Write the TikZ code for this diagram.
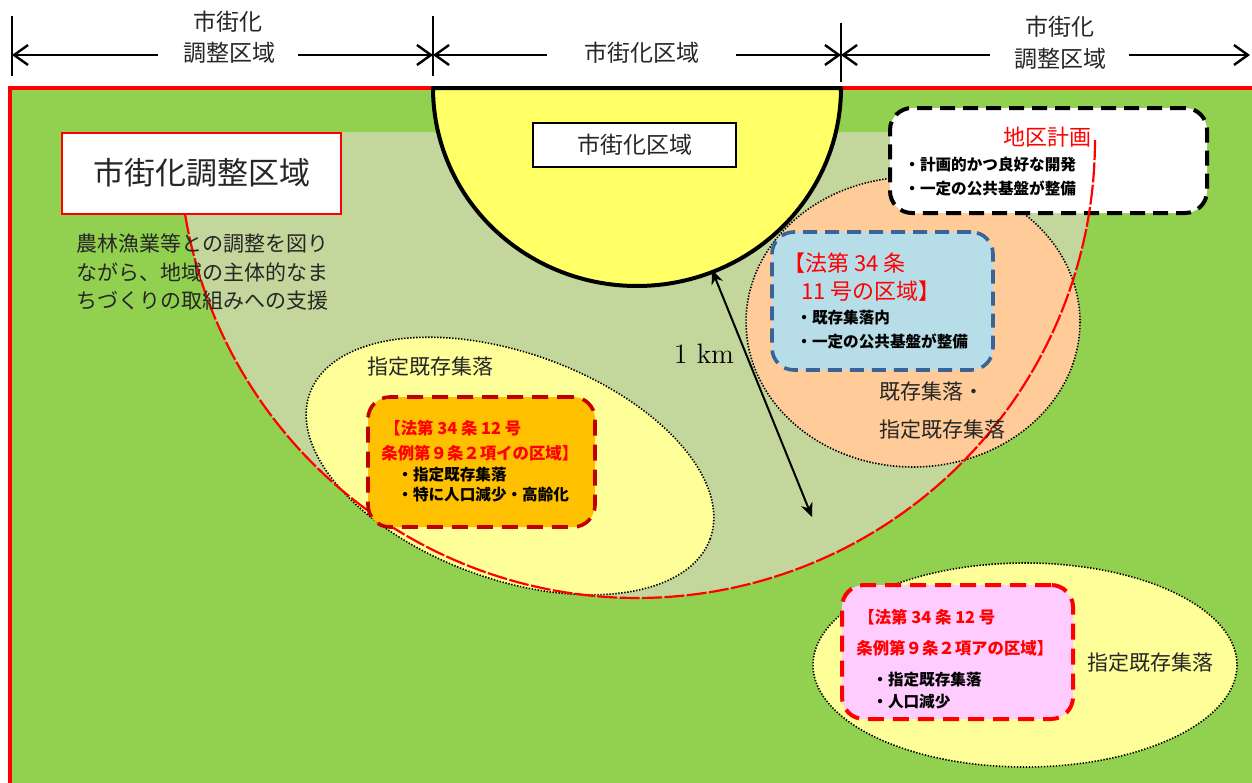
\documentclass[tikz,border=0pt]{standalone}
\usepackage{fontspec}
\newfontfamily\jp{Noto Sans CJK JP}
\usetikzlibrary{arrows.meta}
\definecolor{grn}{HTML}{92D050}
\definecolor{olv}{HTML}{C3D69B}
\definecolor{ylw}{HTML}{FFFF66}
\definecolor{lylw}{HTML}{FFFF99}
\definecolor{peach}{HTML}{FFCC99}
\definecolor{lblue}{HTML}{B7DEE8}
\definecolor{bdash}{HTML}{3A6398}
\definecolor{orng}{HTML}{FFC000}
\definecolor{dred}{HTML}{C00000}
\definecolor{pnk}{HTML}{FFCCFF}
\definecolor{txt}{HTML}{262626}
\begin{document}
\begin{tikzpicture}[x=0.5pt,y=-0.5pt,
  lab/.style={inner sep=0pt, text=txt, font=\jp\fontsize{10.5pt}{14.25pt}\selectfont},
  dimlab/.style={inner sep=0pt, text=txt, font=\jp\fontsize{11.5pt}{14pt}\selectfont},
  redbig/.style={inner sep=0pt, anchor=west, text=red, font=\jp\fontsize{11pt}{13pt}\selectfont},
  redsm/.style={inner sep=0pt, anchor=west, text=red, font=\jp\bfseries\fontsize{8.2pt}{10pt}\selectfont},
  bul/.style={inner sep=0pt, anchor=west, text=black, font=\jp\bfseries\fontsize{7.8pt}{10pt}\selectfont},
  dimarr/.style={line width=1.2pt, -{Straight Barb[length=7pt,width=10pt]}},
  tickline/.style={line width=0.6pt},
  dotb/.style={draw=black, line width=0.8pt, dash pattern=on 0.7pt off 0.8pt},
  dbox/.style={rounded corners=11pt, inner sep=0pt},
  kmarr/.style={line width=1pt, {Stealth[length=7pt,width=6pt]}-{Stealth[length=7pt,width=6pt]}}
]
\useasboundingbox (0,0) rectangle (1252,782);
\clip (0,0) rectangle (1252,782);
\fill[white] (0,0) rectangle (1252,782);
% green area
\filldraw[fill=grn, draw=red, line width=2pt] (10,88) rectangle (1275,800);
% 1 km buffer
\fill[olv] (179,132) -- (1095,132) -- (1095,140)
  -- plot[domain=0:180,samples=150] ({637+458*cos(\x)},{140+458*sin(\x)}) -- cycle;
% ellipses
\filldraw[fill=peach, dotb] plot[domain=0:360,samples=150] ({913+167*cos(\x)},{322+145*sin(\x)}) -- cycle;
\filldraw[fill=lylw, dotb] plot[domain=0:360,samples=150]
  ({510+213*cos(\x)*cos(20)-113*sin(\x)*sin(20)},{466+213*cos(\x)*sin(20)+113*sin(\x)*cos(20)}) -- cycle;
\filldraw[fill=lylw, dotb] plot[domain=0:360,samples=150] ({1025+212*cos(\x)},{665+102*sin(\x)}) -- cycle;
% urbanization area half disc
\filldraw[fill=ylw, draw=black, line width=2pt, line join=round]
  plot[domain=180:0,samples=150] ({637+204*cos(\x)},{88+198*sin(\x)}) -- cycle;
% district plan box
\node[dbox, draw=black, fill=white, line width=2pt, dash pattern=on 7.5pt off 4pt,
  minimum width=158.5pt, minimum height=52.5pt] (chiku) at (1048.5,160.5) {};
% red dashed 1km line
\draw[red, line width=1.1pt, dash pattern=on 10pt off 1.2pt]
  plot[domain=0:180,samples=150] ({637+458*cos(\x)},{140+458*sin(\x)});
% dashed boxes
\node[dbox, draw=bdash, fill=lblue, line width=1.8pt, dash pattern=on 7pt off 4pt,
  minimum width=110.5pt, minimum height=69pt] (b11) at (882.5,301) {};
\node[dbox, draw=dred, fill=orng, line width=1.8pt, dash pattern=on 8pt off 4.5pt,
  minimum width=113.5pt, minimum height=65pt] (b12i) at (481.5,462) {};
\node[dbox, draw=red, fill=pnk, line width=2pt, dash pattern=on 8pt off 4.5pt,
  minimum width=115.5pt, minimum height=67pt] (b12a) at (957.5,652) {};
% titled boxes
\node[draw=red, fill=white, line width=1pt, minimum width=139.5pt, minimum height=40.5pt,
  inner sep=0pt, text=txt, font=\jp\fontsize{15.5pt}{18pt}\selectfont] (chosei) at (201.5,173) {市街化調整区域};
\node[draw=black, fill=white, line width=0.8pt, minimum width=101.5pt, minimum height=22pt,
  inner sep=0pt, text=txt, font=\jp\fontsize{11.5pt}{14pt}\selectfont] (shigai) at (634.5,145) {市街化区域};
% texts
\node[lab, anchor=west, align=left] (para) at (76,272) {農林漁業等との調整を図り\\ながら、地域の主体的なま\\ちづくりの取組みへの支援};
\node[redbig, anchor=center] (chikuT) at (1047,137) {地区計画};
\node[bul] (chikuB1) at (904,165) {・計画的かつ良好な開発};
\node[bul] (chikuB2) at (904,188) {・一定の公共基盤が整備};
\node[redbig] (t11a) at (783,263) {【法第 34 条};
\node[redbig] (t11b) at (801,291) {11 号の区域】};
\node[bul] (t11c) at (796,318) {・既存集落内};
\node[bul] (t11d) at (796,341) {・一定の公共基盤が整備};
\node[redsm] (tia) at (384,428) {【法第 34 条 12 号};
\node[redsm] (tib) at (381,453) {条例第９条２項イの区域】};
\node[bul] (tic) at (397,475) {・指定既存集落};
\node[bul] (tid) at (397,495) {・特に人口減少・高齢化};
\node[redsm] (taa) at (858,617) {【法第 34 条 12 号};
\node[redsm] (tab) at (856,648) {条例第９条２項アの区域】};
\node[bul] (tac) at (872,680) {・指定既存集落};
\node[bul] (tad) at (872,702) {・人口減少};
\node[lab, anchor=west] (lblL) at (367,367) {指定既存集落};
\node[lab, anchor=west] (lblP1) at (879,392) {既存集落・};
\node[lab, anchor=west] (lblP2) at (879,430) {指定既存集落};
\node[lab, anchor=west] (lblB) at (1087,663) {指定既存集落};
% 1 km
\node[inner sep=0pt, font=\fontsize{14pt}{16pt}\selectfont] (km) at (704,354) {1 km};
\coordinate (k1) at (712,270);
\coordinate (k2) at (812,517);
\draw[kmarr] (k1) -- (k2);
% dimension lines
\node[dimlab] (dL1) at (228,22) {市街化};
\node[dimlab] (dL2) at (229,53) {調整区域};
\node[dimlab] (dM) at (642,53) {市街化区域};
\node[dimlab] (dR1) at (1060,27) {市街化};
\node[dimlab] (dR2) at (1060,59) {調整区域};
\coordinate (tA1) at (12,16); \coordinate (tA2) at (12,76); \coordinate (tAm) at (12,55);
\coordinate (tB1) at (433,16); \coordinate (tB2) at (433,76); \coordinate (tBm) at (433,55);
\coordinate (tC1) at (841,23); \coordinate (tC2) at (841,82); \coordinate (tCm) at (841,55);
\coordinate (tDm) at (1250,55);
\coordinate (aL1) at (158,55); \coordinate (aL2) at (298,55);
\coordinate (aM1) at (547,55); \coordinate (aM2) at (736,55);
\coordinate (aR1) at (990,55); \coordinate (aR2) at (1129,55);
\draw[tickline] (tA1) -- (tA2);
\draw[tickline] (tB1) -- (tB2);
\draw[tickline] (tC1) -- (tC2);
\draw[dimarr] (aL1) -- (tAm);
\draw[dimarr] (aL2) -- (tBm);
\draw[dimarr] (aM1) -- (tBm);
\draw[dimarr] (aM2) -- (tCm);
\draw[dimarr] (aR1) -- (tCm);
\draw[dimarr] (aR2) -- (tDm);
\end{tikzpicture}
\end{document}
